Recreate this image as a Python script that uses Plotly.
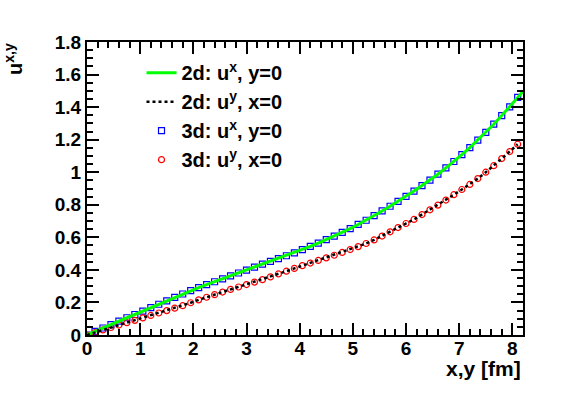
import plotly.graph_objects as go

# ---- data ----
x_3d = [0.00, 0.15, 0.30, 0.45, 0.60, 0.75, 0.90, 1.05, 1.20, 1.35, 1.50, 1.65, 1.80, 1.95,
        2.10, 2.25, 2.40, 2.55, 2.70, 2.85, 3.00, 3.15, 3.30, 3.45, 3.60, 3.75, 3.90, 4.05,
        4.20, 4.35, 4.50, 4.65, 4.80, 4.95, 5.10, 5.25, 5.40, 5.55, 5.70, 5.85, 6.00, 6.15,
        6.30, 6.45, 6.60, 6.75, 6.90, 7.05, 7.20, 7.35, 7.50, 7.65, 7.80, 7.95, 8.10]

ux_3d = [0.000, 0.022, 0.043, 0.064, 0.085, 0.106, 0.126, 0.147, 0.168, 0.189, 0.210, 0.231,
         0.252, 0.272, 0.291, 0.309, 0.327, 0.345, 0.363, 0.381, 0.399, 0.417, 0.435, 0.452,
         0.469, 0.487, 0.505, 0.524, 0.545, 0.565, 0.586, 0.608, 0.631, 0.654, 0.679, 0.705,
         0.733, 0.762, 0.791, 0.821, 0.852, 0.884, 0.918, 0.952, 0.988, 1.027, 1.066, 1.108,
         1.151, 1.197, 1.245, 1.295, 1.348, 1.402, 1.460]

uy_3d = [0.000, 0.015, 0.031, 0.046, 0.061, 0.076, 0.090, 0.105, 0.120, 0.135, 0.150, 0.165,
         0.180, 0.198, 0.216, 0.232, 0.248, 0.264, 0.280, 0.295, 0.310, 0.325, 0.340, 0.357,
         0.375, 0.392, 0.409, 0.426, 0.442, 0.458, 0.474, 0.490, 0.507, 0.525, 0.543, 0.562,
         0.584, 0.608, 0.634, 0.660, 0.685, 0.710, 0.740, 0.769, 0.798, 0.829, 0.862, 0.894,
         0.925, 0.961, 1.000, 1.040, 1.084, 1.127, 1.172]

x_2d_ux = x_3d + [8.20]
ux_2d = ux_3d + [1.496]
x_2d_uy = list(x_3d)
uy_2d = list(uy_3d)

labels = ["2d: u<sup>x</sup>, y=0", "2d: u<sup>y</sup>, x=0",
          "3d: u<sup>x</sup>, y=0", "3d: u<sup>y</sup>, x=0"]

FONT = "Liberation Sans, Arial, Helvetica, sans-serif"

fig = go.Figure()

fig.add_trace(go.Scatter(x=x_3d, y=ux_3d, mode="markers", name=labels[2], legendrank=3,
                         legendgroup="c",
                         marker=dict(symbol="square-open", size=6, color="#0000ff",
                                     line=dict(width=1.2, color="#0000ff"))))
fig.add_trace(go.Scatter(x=x_3d, y=uy_3d, mode="markers", name=labels[3], legendrank=4,
                         legendgroup="d",
                         marker=dict(symbol="circle-open", size=6, color="#ff0000",
                                     line=dict(width=1.2, color="#ff0000"))))
fig.add_trace(go.Scatter(x=x_2d_ux, y=ux_2d, mode="lines", name=labels[0], legendrank=1,
                         legendgroup="a",
                         line=dict(color="#00ff00", width=3)))
fig.add_trace(go.Scatter(x=x_2d_uy, y=uy_2d, mode="lines", name=labels[1], legendrank=2,
                         legendgroup="b",
                         line=dict(color="#000000", width=2.5, dash="dot")))

axis_common = dict(showline=True, linecolor="black", linewidth=2, mirror="allticks",
                   ticks="inside", tickcolor="black", tickwidth=2, ticklen=12,
                   showgrid=False, zeroline=False, automargin=False,
                   tickfont=dict(family=FONT, size=19, color="black", weight="bold"))

fig.update_xaxes(range=[0, 8.2], tick0=0, dtick=1, ticklabelstandoff=-5,
                 minor=dict(ticks="inside", ticklen=6, tickwidth=1.5, tickcolor="black",
                            dtick=0.2, showgrid=False),
                 **axis_common)
fig.update_yaxes(range=[0, 1.8], tick0=0, dtick=0.2, tickformat="~g",
                 minor=dict(ticks="inside", ticklen=6, tickwidth=1.5, tickcolor="black",
                            dtick=0.05, showgrid=False),
                 **axis_common)

fig.add_annotation(text="<b>x,y [fm]</b>", xref="paper", yref="paper", x=1, y=0,
                   xanchor="right", yanchor="middle", yshift=-33, showarrow=False,
                   font=dict(family=FONT, size=21, color="black"))
fig.add_annotation(text="<b>u<sup>x,y</sup></b>", xref="paper", yref="paper", x=0, y=1,
                   xanchor="center", yanchor="top", xshift=-74, yshift=1, textangle=-90,
                   showarrow=False, font=dict(family=FONT, size=20, color="black"))

fig.update_layout(
    width=581, height=394,
    margin=dict(l=87, r=58, t=42, b=59),
    paper_bgcolor="white", plot_bgcolor="white",
    showlegend=True,
    legend=dict(x=0.125, y=0.962, xanchor="left", yanchor="top",
                bgcolor="rgba(0,0,0,0)", borderwidth=0, tracegroupgap=0,
                font=dict(family=FONT, size=20, color="black", weight="bold"),
                traceorder="grouped"),
)

fig.write_html("out.html", config={"displayModeBar": False},
               post_script="document.body.style.margin='0';")
